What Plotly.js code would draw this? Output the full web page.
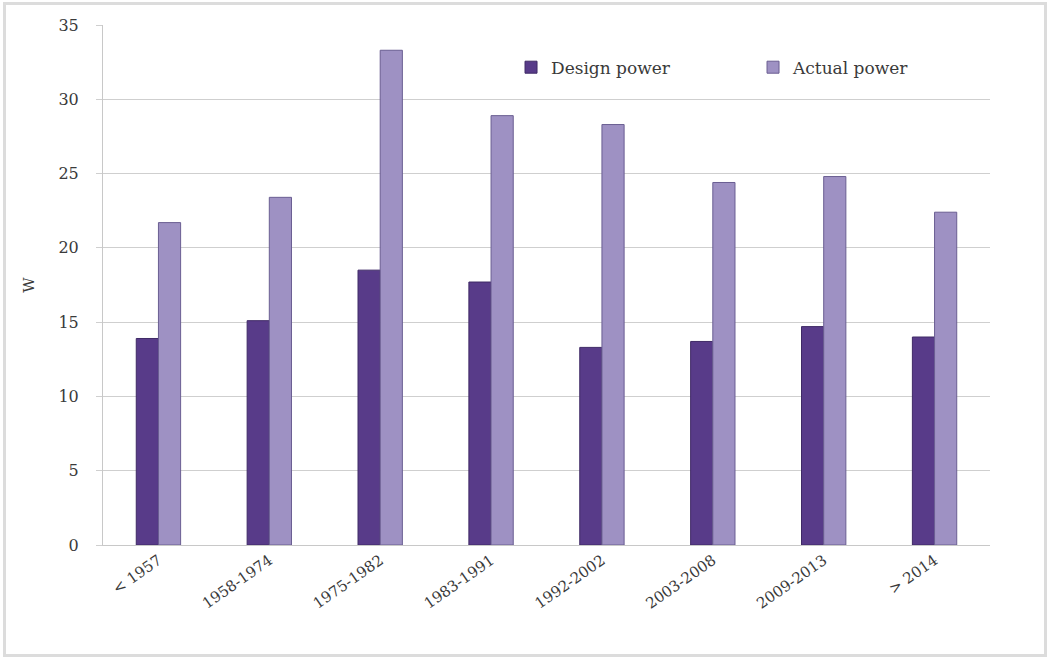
<!DOCTYPE html>
<html>
<head>
<meta charset="utf-8">
<script src="https://cdn.plot.ly/plotly-3.0.1.min.js"></script>
<style>
  html, body { margin: 0; padding: 0; background: #ffffff; }
  #wrap { position: relative; width: 1053px; height: 663px; }
  #chart { width: 1053px; height: 663px; }
  #frame { position: absolute; left: 3px; top: 2px; width: 1044px; height: 655px;
           border: 3px solid #dcdcdc; box-sizing: border-box; pointer-events: none; }
</style>
</head>
<body>
<div id="wrap">
  <div id="chart"></div>
  <div id="frame"></div>
</div>
<script>
const categories = ["< 1957", "1958-1974", "1975-1982", "1983-1991", "1992-2002", "2003-2008", "2009-2013", "> 2014"];
const designPower = [13.9, 15.1, 18.5, 17.7, 13.3, 13.7, 14.7, 14.0];
const actualPower = [21.7, 23.4, 33.3, 28.9, 28.3, 24.4, 24.8, 22.4];
const yTicks = [0, 5, 10, 15, 20, 25, 30, 35];

const serif = "DejaVu Serif, Liberation Serif, serif";

const traces = [
  {
    type: "bar", name: "Design power", x: categories, y: designPower,
    marker: { color: "#583b89", line: { color: "#3f2a66", width: 1 } }
  },
  {
    type: "bar", name: "Actual power", x: categories, y: actualPower,
    marker: { color: "#9e91c3", line: { color: "#6a5e92", width: 1 } }
  }
];

const layout = {
  width: 1053, height: 663,
  margin: { l: 103, r: 63, t: 25, b: 118 },
  paper_bgcolor: "#ffffff", plot_bgcolor: "#ffffff",
  barmode: "group", bargap: 0.6, bargroupgap: 0,
  font: { family: serif, color: "#3a3a3a", size: 15 },
  showlegend: true,
  legend: {
    orientation: "h", x: 0.46, y: 0.918, xanchor: "left", yanchor: "middle",
    font: { family: serif, size: 17, color: "#3a3a3a" },
    entrywidth: 197, entrywidthmode: "pixels",
    bgcolor: "rgba(0,0,0,0)", itemwidth: 30
  },
  xaxis: {
    type: "category", tickangle: -35, showgrid: false,
    showline: true, linecolor: "#c8c8c8", linewidth: 1,
    ticks: "", tickfont: { family: serif, size: 15, color: "#3a3a3a" }
  },
  yaxis: {
    range: [0, 35], tickvals: yTicks, ticktext: yTicks.map(String),
    showgrid: true, gridcolor: "#cfcfcf", gridwidth: 1,
    showline: true, linecolor: "#c8c8c8", linewidth: 1,
    ticks: "outside", ticklen: 6, tickcolor: "#cfcfcf",
    ticklabelstandoff: 14,
    zeroline: false,
    tickfont: { family: serif, size: 16, color: "#3a3a3a" },
    title: { text: "W", font: { family: serif, size: 15, color: "#3a3a3a" }, standoff: 20 }
  }
};

Plotly.newPlot("chart", traces, layout, { displayModeBar: false, staticPlot: true });
</script>
</body>
</html>
